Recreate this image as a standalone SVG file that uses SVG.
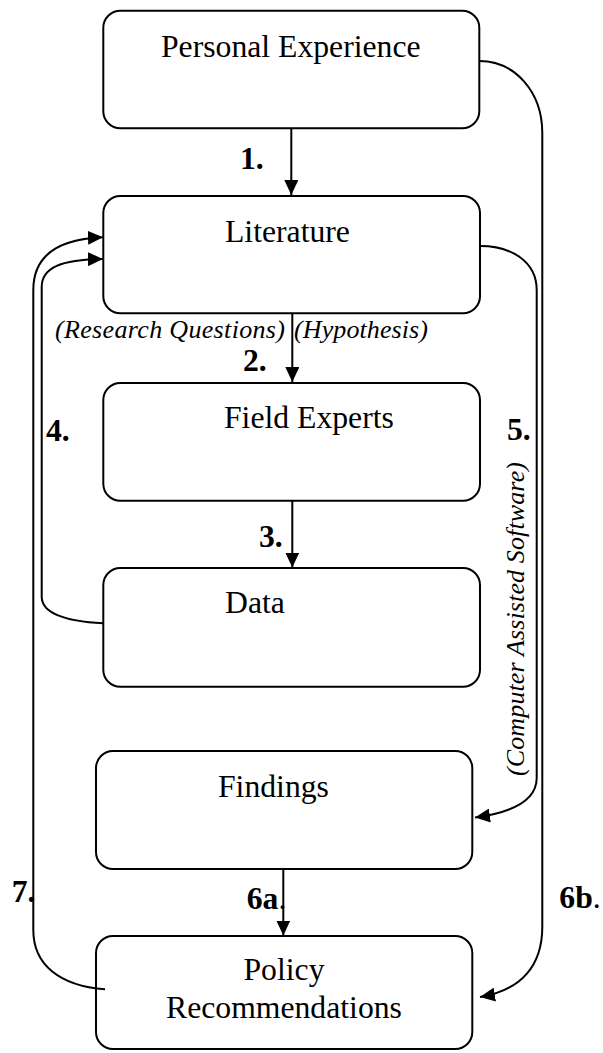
<svg xmlns="http://www.w3.org/2000/svg" width="603" height="1053" viewBox="0 0 603 1053">
<style>
.box{fill:#fff;stroke:#000;stroke-width:2}
.lbl{font-family:"Liberation Serif","Times New Roman",serif;font-size:31.7px;fill:#000}
.num{font-family:"Liberation Serif","Times New Roman",serif;font-size:31.7px;font-weight:bold;fill:#000}
.it{font-family:"Liberation Serif","Times New Roman",serif;font-size:26px;font-style:italic;fill:#000}
.con{fill:none;stroke:#000;stroke-width:2}
</style>
<defs>
<marker id="ah" viewBox="0 0 15 14" refX="15" refY="7" markerWidth="15" markerHeight="14" markerUnits="userSpaceOnUse" orient="auto">
<path d="M0,0 L15,7 L0,14 z" fill="#000"/>
</marker>
</defs>
<g id="personal">
<rect class="box" x="103.3" y="10.7" width="376" height="117.6" rx="17"/>
<text class="lbl" x="161" y="57">Personal Experience</text>
</g>
<g id="literature">
<rect class="box" x="103.3" y="196" width="376.7" height="117.3" rx="17"/>
<text class="lbl" x="225" y="241.7">Literature</text>
</g>
<g id="field">
<rect class="box" x="103.3" y="383" width="376.7" height="117.7" rx="17"/>
<text class="lbl" x="224" y="428.3">Field Experts</text>
</g>
<g id="data">
<rect class="box" x="103.3" y="568" width="376.7" height="118.7" rx="17"/>
<text class="lbl" x="225" y="613">Data</text>
</g>
<g id="findings">
<rect class="box" x="96" y="751" width="376.3" height="118" rx="17"/>
<text class="lbl" x="218" y="796.7">Findings</text>
</g>
<g id="policy">
<rect class="box" x="96" y="936" width="376.3" height="113" rx="17"/>
<text class="lbl" x="284" y="980" text-anchor="middle">Policy</text>
<text class="lbl" x="284" y="1018.3" text-anchor="middle">Recommendations</text>
</g>
<g id="connectors">
<path class="con" d="M291.3,128.3 L291.3,195" marker-end="url(#ah)"/>
<path class="con" d="M292.3,313.3 L292.3,382" marker-end="url(#ah)"/>
<path class="con" d="M292.3,500.7 L292.3,567.5" marker-end="url(#ah)"/>
<path class="con" d="M283.3,869 L283.3,935.5" marker-end="url(#ah)"/>
<path class="con" d="M103.3,623.3 C62,621 41.7,612 41.7,596.7 L41.7,287 C41.7,268 60,259.5 103,259" marker-end="url(#ah)"/>
<path class="con" d="M105,989.3 C60,986 33.3,965 33.3,930 L33.3,290 C33.3,256 58,239 103,237.3" marker-end="url(#ah)"/>
<path class="con" d="M480,246 C512,246 536.7,262 536.7,290 L536.7,778 C536.7,800 515,812 475,817.5" marker-end="url(#ah)"/>
<path class="con" d="M479.3,61 C515,61 542.3,92 542.3,133 L542.3,926.7 C542.3,965 522,990 480,997" marker-end="url(#ah)"/>
</g>
<g id="labels">
<text class="num" x="240" y="169">1.</text>
<text class="num" x="243" y="370.5">2.</text>
<text class="num" x="259" y="546.7">3.</text>
<text class="num" x="46" y="440.5">4.</text>
<text class="num" x="507" y="439.5">5.</text>
<text class="num" x="246.7" y="909">6a<tspan font-weight="normal">.</tspan></text>
<text class="num" x="559.3" y="908.3">6b<tspan font-weight="normal">.</tspan></text>
<text class="num" x="11.7" y="902">7.</text>
<text class="it" x="55" y="337.5" textLength="230">(Research Questions)</text>
<text class="it" x="294" y="337.5" textLength="134">(Hypothesis)</text>
<text class="it" transform="translate(523.5,776) rotate(-90)" textLength="314">(Computer Assisted Software)</text>
</g>
</svg>
